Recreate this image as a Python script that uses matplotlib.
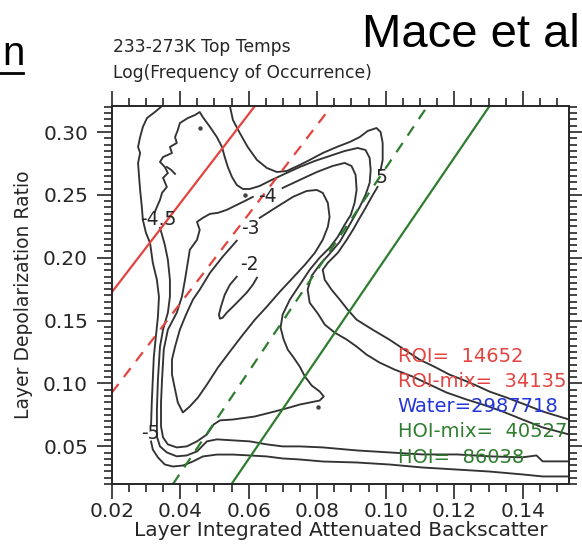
import numpy as np
import matplotlib.pyplot as plt
from matplotlib.lines import Line2D

# ---- data (x = backscatter, y = depolarization) ----
# contour pieces of log(frequency); -5 outermost ... -2 innermost
c5_left = np.array([
    (0.0347, 0.3207), (0.0326, 0.3159), (0.0303, 0.3111), (0.0291, 0.3040),
    (0.0283, 0.2960), (0.0277, 0.2881), (0.0283, 0.2833), (0.0277, 0.2754),
    (0.0280, 0.2643), (0.0283, 0.2539), (0.0288, 0.2404), (0.0291, 0.2301),
    (0.0300, 0.2198), (0.0312, 0.2118), (0.0320, 0.1960), (0.0332, 0.1824),
    (0.0338, 0.1689), (0.0335, 0.1531), (0.0329, 0.1372), (0.0323, 0.1213),
    (0.0320, 0.1030), (0.0317, 0.0848), (0.0315, 0.0673)])
c5_bottom = np.array([
    (0.0315, 0.0538), (0.0320, 0.0474), (0.0335, 0.0411), (0.0355, 0.0355),
    (0.0379, 0.0339), (0.0408, 0.0347), (0.0437, 0.0379), (0.0466, 0.0419),
    (0.0507, 0.0434), (0.0554, 0.0434), (0.0603, 0.0427), (0.0653, 0.0419),
    (0.0699, 0.0403), (0.0749, 0.0395), (0.0816, 0.0379), (0.0915, 0.0371),
    (0.1011, 0.0355), (0.1108, 0.0331), (0.1207, 0.0315), (0.1303, 0.0299),
    (0.1399, 0.0276), (0.1458, 0.0260), (0.1535, 0.0260)])
c5_top = np.array([
    (0.0545, 0.3207), (0.0554, 0.3095), (0.0574, 0.2992), (0.0597, 0.2881),
    (0.0624, 0.2778), (0.0653, 0.2714), (0.0682, 0.2682), (0.0711, 0.2690),
    (0.0749, 0.2738), (0.0778, 0.2778), (0.0816, 0.2833), (0.0857, 0.2881),
    (0.0895, 0.2921), (0.0924, 0.2960), (0.0947, 0.3008), (0.0973, 0.3032),
    (0.0985, 0.3000), (0.0991, 0.2913), (0.0991, 0.2778), (0.0985, 0.2698)])
c5_right = np.array([
    (0.0976, 0.2563), (0.0959, 0.2484), (0.0941, 0.2396), (0.0924, 0.2317),
    (0.0906, 0.2230), (0.0886, 0.2142), (0.0860, 0.2039), (0.0831, 0.1960),
    (0.0816, 0.1904), (0.0822, 0.1824), (0.0842, 0.1745), (0.0866, 0.1666),
    (0.0889, 0.1586), (0.0915, 0.1507), (0.0962, 0.1427), (0.1011, 0.1348),
    (0.1055, 0.1268), (0.1099, 0.1189), (0.1142, 0.1133), (0.1186, 0.1070),
    (0.1224, 0.1030), (0.1265, 0.0983), (0.1303, 0.0935), (0.1352, 0.0888),
    (0.1399, 0.0840), (0.1458, 0.0777), (0.1535, 0.0713)])
c45_upper = np.array([
    (0.1535, 0.0594), (0.1458, 0.0650), (0.1399, 0.0713), (0.1341, 0.0777),
    (0.1283, 0.0832), (0.1236, 0.0872), (0.1177, 0.0928), (0.1128, 0.0991),
    (0.1078, 0.1055), (0.1026, 0.1110), (0.0982, 0.1166), (0.0944, 0.1229),
    (0.0915, 0.1293), (0.0886, 0.1349), (0.0851, 0.1404), (0.0822, 0.1468),
    (0.0802, 0.1555), (0.0778, 0.1642), (0.0772, 0.1746), (0.0784, 0.1857),
    (0.0807, 0.1944), (0.0836, 0.2031), (0.0866, 0.2127), (0.0886, 0.2222),
    (0.0906, 0.2317), (0.0924, 0.2404), (0.0941, 0.2500), (0.0953, 0.2595),
    (0.0956, 0.2698), (0.0953, 0.2794), (0.0941, 0.2857), (0.0918, 0.2873),
    (0.0880, 0.2849), (0.0836, 0.2809), (0.0793, 0.2770), (0.0749, 0.2722),
    (0.0705, 0.2667), (0.0661, 0.2611), (0.0632, 0.2571), (0.0603, 0.2547),
    (0.0583, 0.2547), (0.0565, 0.2579), (0.0551, 0.2643), (0.0539, 0.2722),
    (0.0530, 0.2801), (0.0522, 0.2881), (0.0507, 0.2960), (0.0487, 0.3040),
    (0.0466, 0.3119), (0.0457, 0.3159), (0.0443, 0.3135), (0.0422, 0.3111),
    (0.0399, 0.3071), (0.0393, 0.3016), (0.0385, 0.2960), (0.0390, 0.2913),
    (0.0370, 0.2881), (0.0376, 0.2833), (0.0350, 0.2801), (0.0341, 0.2762),
    (0.0355, 0.2722), (0.0364, 0.2674), (0.0350, 0.2635), (0.0361, 0.2563),
    (0.0347, 0.2516), (0.0341, 0.2460), (0.0332, 0.2404), (0.0326, 0.2365)])
c45_lower = np.array([
    (0.0341, 0.2238), (0.0347, 0.2182), (0.0355, 0.2103), (0.0364, 0.1984),
    (0.0370, 0.1825), (0.0370, 0.1690), (0.0364, 0.1563), (0.0350, 0.1428),
    (0.0341, 0.1293), (0.0335, 0.1031), (0.0332, 0.0793), (0.0332, 0.0578),
    (0.0341, 0.0499), (0.0361, 0.0451), (0.0390, 0.0420), (0.0419, 0.0427),
    (0.0449, 0.0459), (0.0478, 0.0539), (0.0507, 0.0555), (0.0554, 0.0547),
    (0.0603, 0.0539), (0.0653, 0.0515), (0.0699, 0.0499), (0.0749, 0.0499),
    (0.0816, 0.0491), (0.0915, 0.0467), (0.1011, 0.0451), (0.1108, 0.0435),
    (0.1207, 0.0435), (0.1303, 0.0420), (0.1399, 0.0412), (0.1440, 0.0427),
    (0.1458, 0.0380), (0.1535, 0.0380)])
c45_stroke = np.array([(0.0361, 0.2722), (0.0373, 0.2700), (0.0385, 0.2667)])
c4 = np.array([
    (0.0699, 0.2555), (0.0749, 0.2619), (0.0799, 0.2682), (0.0845, 0.2730),
    (0.0880, 0.2754), (0.0900, 0.2730), (0.0912, 0.2659), (0.0915, 0.2539),
    (0.0909, 0.2436), (0.0898, 0.2341), (0.0880, 0.2262), (0.0860, 0.2166),
    (0.0836, 0.2079), (0.0807, 0.2000), (0.0778, 0.1904), (0.0749, 0.1785),
    (0.0720, 0.1666), (0.0699, 0.1547), (0.0693, 0.1444), (0.0702, 0.1349),
    (0.0714, 0.1269), (0.0731, 0.1206), (0.0749, 0.1134), (0.0764, 0.1055),
    (0.0784, 0.0983), (0.0807, 0.0936), (0.0819, 0.0896), (0.0807, 0.0864),
    (0.0778, 0.0848), (0.0749, 0.0832), (0.0720, 0.0809), (0.0676, 0.0777),
    (0.0618, 0.0737), (0.0554, 0.0713), (0.0516, 0.0706), (0.0498, 0.0674),
    (0.0478, 0.0594), (0.0449, 0.0539), (0.0419, 0.0499), (0.0390, 0.0491),
    (0.0364, 0.0515), (0.0350, 0.0570), (0.0344, 0.0658), (0.0344, 0.0848),
    (0.0347, 0.1031), (0.0352, 0.1269), (0.0364, 0.1428), (0.0390, 0.1563),
    (0.0405, 0.1690), (0.0414, 0.1825), (0.0422, 0.1960), (0.0428, 0.2063),
    (0.0449, 0.2142), (0.0457, 0.2222), (0.0449, 0.2285), (0.0466, 0.2317),
    (0.0487, 0.2349), (0.0510, 0.2357), (0.0536, 0.2381), (0.0559, 0.2412),
    (0.0589, 0.2452), (0.0612, 0.2484)])
c3 = np.array([
    (0.0632, 0.2317), (0.0682, 0.2404), (0.0729, 0.2484), (0.0769, 0.2531),
    (0.0799, 0.2539), (0.0816, 0.2516), (0.0831, 0.2436), (0.0836, 0.2325),
    (0.0831, 0.2246), (0.0816, 0.2142), (0.0793, 0.2039), (0.0764, 0.1944),
    (0.0729, 0.1841), (0.0691, 0.1730), (0.0653, 0.1611), (0.0618, 0.1507),
    (0.0583, 0.1388), (0.0545, 0.1253), (0.0510, 0.1126), (0.0478, 0.0991),
    (0.0452, 0.0888), (0.0428, 0.0817), (0.0408, 0.0769), (0.0393, 0.0848),
    (0.0385, 0.0952), (0.0376, 0.1071), (0.0376, 0.1190), (0.0385, 0.1293),
    (0.0399, 0.1428), (0.0417, 0.1547), (0.0437, 0.1666), (0.0457, 0.1746),
    (0.0487, 0.1880), (0.0524, 0.2008), (0.0565, 0.2135)])
c2 = np.array([
    (0.0565, 0.1849), (0.0545, 0.1785), (0.0530, 0.1706), (0.0519, 0.1611),
    (0.0513, 0.1547), (0.0516, 0.1515), (0.0524, 0.1523), (0.0536, 0.1563),
    (0.0554, 0.1611), (0.0574, 0.1666), (0.0594, 0.1722), (0.0612, 0.1785),
    (0.0624, 0.1841)])
contour_pieces = [c5_left, c5_bottom, c5_top, c5_right,
                  c45_upper, c45_lower, c45_stroke, c4, c3, c2]

# tiny closed contours that show up as dots
dot_x = [0.0457, 0.0589, 0.0802]
dot_y = [0.3032, 0.2500, 0.0809]

# contour labels: (text, x, y)
level_labels = [("-4.5", 0.0335, 0.2301), ("-4", 0.0656, 0.2484),
                ("-3", 0.0606, 0.2230), ("-2", 0.0603, 0.1944),
                ("-5", 0.0312, 0.0602), ("5", 0.0988, 0.2635)]

# category separation lines: x at both ends, y at both ends
roi_x, roi_y = [0.0200, 0.0618], [0.1724, 0.3207]
roimix_x, roimix_y = [0.0200, 0.0842], [0.0925, 0.3207]
hoimix_x, hoimix_y = [0.0379, 0.1122], [0.0200, 0.3207]
hoi_x, hoi_y = [0.0550, 0.1303], [0.0200, 0.3207]

# category counts
cat_names = ["ROI", "ROI-mix", "Water", "HOI-mix", "HOI"]
cat_counts = ["  14652", "  34135", "2987718", "  40527", "  86038"]

red = "#e4443f"
green = "#2f7d2f"
cat_colors = [red, red, "#2536d8", green, green]
ink = "#262626"

plt.rcParams['font.family'] = 'DejaVu Sans'
fig = plt.figure(figsize=(5.82, 5.47), dpi=100)
ax = fig.add_axes([0.1919, 0.1152, 0.7858, 0.6910])

for piece in contour_pieces:
    ax.plot(piece[:, 0], piece[:, 1], color="#333333", lw=1.35)
ax.plot(dot_x, dot_y, 'o', color="#444444", ms=2.2)

for txt, x, y in level_labels:
    ax.text(x, y, txt, ha='center', va='center', fontsize=13.5, color=ink)

ax.plot(roi_x, roi_y, color=red, lw=1.6)
ax.plot(roimix_x, roimix_y, color=red, lw=1.6, dashes=(5, 4))
ax.plot(hoimix_x, hoimix_y, color=green, lw=1.6, dashes=(5, 4))
ax.plot(hoi_x, hoi_y, color=green, lw=1.6)

for i, (name, cnt, col) in enumerate(zip(cat_names, cat_counts, cat_colors)):
    ax.text(0.1035, 0.1214 - i * 0.0200, name + "=" + cnt, color=col,
            fontsize=14, ha='left', va='center')

ax.set_xlim(0.02, 0.1535)
ax.set_ylim(0.02, 0.3207)
ax.set_xticks([0.02, 0.04, 0.06, 0.08, 0.10, 0.12, 0.14])
ax.set_yticks([0.05, 0.10, 0.15, 0.20, 0.25, 0.30])
ax.set_xticks(np.arange(0.02, 0.1536, 0.005), minor=True)
ax.set_yticks(np.arange(0.02, 0.3207, 0.005), minor=True)
ax.xaxis.set_major_formatter(plt.FormatStrFormatter('%.2f'))
ax.yaxis.set_major_formatter(plt.FormatStrFormatter('%.2f'))
ax.tick_params(which='both', direction='out', top=True, right=True,
               width=1.2, labelsize=14.5, colors=ink)
ax.tick_params(which='major', length=11)
ax.tick_params(which='minor', length=6)
ax.tick_params(axis='x', which='major', pad=2)
ax.tick_params(axis='y', which='major', pad=6)
for s in ax.spines.values():
    s.set_linewidth(1.4)
    s.set_color(ink)

ax.set_xlabel("Layer Integrated Attenuated Backscatter", fontsize=14.5,
              labelpad=0, color=ink)
ax.set_ylabel("Layer Depolarization Ratio", fontsize=13.5, labelpad=7,
              color=ink)

fig.text(0.194, 0.914, "233-273K Top Temps", fontsize=12.3, va='center',
         color=ink)
fig.text(0.194, 0.8665, "Log(Frequency of Occurrence)", fontsize=12.3,
         va='center', color=ink)
fig.text(0.622, 0.936, "Mace et al", fontsize=34, va='center',
         family='Liberation Sans')
fig.text(0.004, 0.881, "n", fontsize=29, ha='left', va='baseline',
         family='Liberation Sans')
fig.add_artist(Line2D([0.0, 0.040], [0.8665, 0.8665], color='black', lw=2,
                      transform=fig.transFigure))

fig.savefig("out.png", dpi=100)
